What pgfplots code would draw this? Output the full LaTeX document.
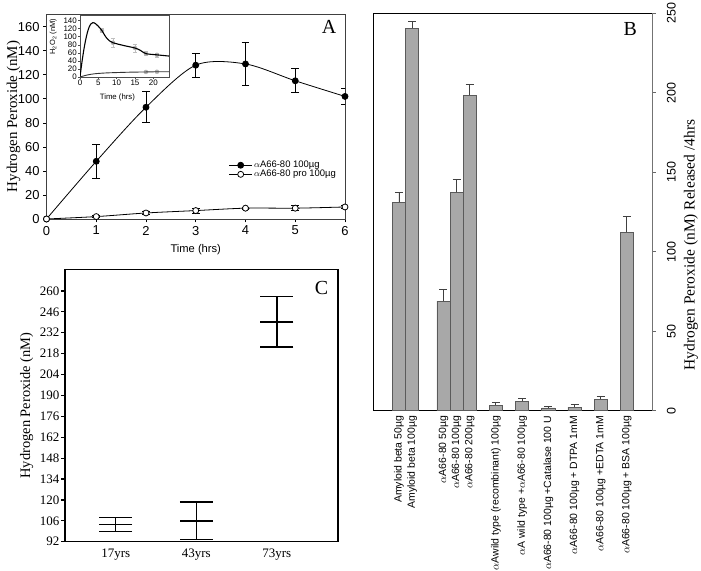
\documentclass[border=0pt]{standalone}
\usepackage{fontspec}
\setmainfont{Liberation Serif}
\setsansfont{Liberation Sans}
\usepackage{pgfplots}
\pgfplotsset{compat=1.18}
\newcommand\fs[1]{\fontsize{#1}{#1}\selectfont}
\definecolor{barfill}{HTML}{A8A8A8}
\definecolor{bardraw}{HTML}{5A5A5A}
\begin{document}
\begin{tikzpicture}[x=1bp,y=1bp]
\path[use as bounding box] (0,0) rectangle (701,571);

% ---------------- Panel A ----------------
\begin{axis}[
  at={(46.5bp,352bp)}, anchor=south west, scale only axis,
  width=298.5bp, height=205bp, clip mode=individual,
  xmin=0, xmax=6, ymin=0, ymax=170.6,
  xtick={0,1,...,6}, ytick={0,20,...,160},
  xtick pos=bottom, ytick pos=left, tick align=outside,
  major tick length=3.5bp,
  axis line style={black!75, line width=0.7bp},
  tick style={black, line width=0.7bp},
  /pgf/number format/assume math mode=true,
  ticklabel style={font=\sffamily\fs{13}},
  legend style={at={(axis description cs:0.6,0.30)}, anchor=north west,
    draw=none, fill=none, font=\sffamily\fs{9.5}, row sep=-2bp,
    nodes={inner sep=1.5bp}},
  legend cell align=left,
  legend image code/.code={\draw[mark repeat=2,mark phase=2] plot coordinates {(0bp,0bp) (11.5bp,0bp) (23bp,0bp)};},
]
\addplot[black, line width=0.8bp, smooth, mark=*, mark size=3bp,
  error bars/.cd, y dir=both, y explicit,
  error bar style={line width=0.8bp}, error mark options={rotate=90, mark size=3.8bp, line width=0.8bp}]
  table[y error=e] {
  x y e
  0 0 0
  1 48 14
  2 93 13
  3 128 10
  4 129 18
  5 115 10
  6 102 7
};
\addlegendentry{$\alpha$A66-80 100µg}
\addplot[black, line width=0.8bp, smooth, mark=*, mark size=3bp, mark options={fill=white},
  error bars/.cd, y dir=both, y explicit,
  error bar style={line width=0.8bp}, error mark options={rotate=90, mark size=3.8bp, line width=0.8bp}]
  table[y error=e] {
  x y e
  0 0 0
  1 2 1
  2 5 1
  3 7 2
  4 9 1
  5 9 2
  6 10 1
};
\addlegendentry{$\alpha$A66-80 pro 100µg}
\node[font=\fs{15}, rotate=90] at (axis description cs:-0.11,0.5) {Hydrogen Peroxide (nM)};
\node[font=\sffamily\fs{11.2}] at (axis description cs:0.5,-0.151) {Time (hrs)};
\node[font=\fs{20}] at (axis description cs:0.947,0.937) {A};
\end{axis}

% ---------------- Inset ----------------
\begin{axis}[
  at={(80bp,494bp)}, anchor=south west, scale only axis,
  width=89bp, height=62bp, clip mode=individual,
  xmin=0, xmax=24.3, ymin=0, ymax=154,
  xtick={0,5,...,20}, ytick={0,20,...,140},
  xtick pos=bottom, ytick pos=left, tick align=outside,
  major tick length=2bp,
  axis line style={black!70, line width=0.6bp},
  tick style={black!70, line width=0.5bp},
  /pgf/number format/assume math mode=true,
  ticklabel style={font=\sffamily\fs{8}, inner sep=1bp},
  axis background/.style={fill=white},
]
\addplot[only marks, mark=none, black!30,
  error bars/.cd, y dir=both, y explicit,
  error bar style={line width=0.5bp, black!25}, error mark options={rotate=90, mark size=2bp, line width=0.5bp, black!25}]
  table[y error=e] {
  x y e
  6 115 5
  9 85 10
  15 72 10
  18 58 5
  21 55 5
  18 12.5 1.5
  21 13 1.5
};
\addplot[black, line width=1.1bp, smooth] coordinates {
  (0,0) (0.5,35) (1,65) (1.5,90) (2,110) (2.5,124) (3,132) (3.5,135) (4,134) (5,126) (6,115) (7,100) (8,90) (9,85) (12,78) (15,72) (16.5,66) (18,58) (21,55) (24.3,52)
};
\addplot[black!80, line width=0.9bp, smooth] coordinates {
  (0,0) (2,5) (4,8) (7,10) (10,11) (14,12) (18,12.5) (21,13) (24.3,13)
};
\node[font=\sffamily\fs{7.5}, rotate=90] at (axis description cs:-0.30,0.65) {H\textsubscript{2}O\textsubscript{2} (nM)};
\node[font=\sffamily\fs{7.8}] at (axis description cs:0.42,-0.33) {Time (hrs)};
\end{axis}

% ---------------- Panel B ----------------
\begin{axis}[
  at={(373bp,160.3bp)}, anchor=south west, scale only axis,
  width=279.7bp, height=397.4bp, clip mode=individual,
  xmin=-1.98, xmax=19.37, ymin=0, ymax=250,
  ytick={0,50,...,250},
  xtick={0,1,3.4,4.4,5.4,7.4,9.4,11.4,13.4,15.4,17.4},
  xticklabels={
    {Amyloid beta 50µg},
    {Amyloid beta 100µg},
    {$\alpha$A66-80 50µg},
    {$\alpha$A66-80 100µg},
    {$\alpha$A66-80 200µg},
    {$\alpha$Awild type (recombinant) 100µg},
    {$\alpha$A wild type +$\alpha$A66-80 100µg},
    {$\alpha$A66-80 100µg +Catalase 100 U},
    {$\alpha$A66-80 100µg + DTPA 1mM},
    {$\alpha$A66-80 100µg +EDTA 1mM},
    {$\alpha$A66-80 100µg + BSA 100µg}},
  xticklabel style={rotate=90, anchor=east, font=\sffamily\fs{10.5}, inner sep=2bp},
  major x tick style={draw=none},
  ytick pos=right, yticklabel pos=right, tick align=outside,
  major tick length=3bp,
  axis line style={black, line width=0.8bp},
  tick style={black!60, line width=0.7bp},
  /pgf/number format/assume math mode=true,
  yticklabel style={font=\sffamily\fs{12.5}, rotate=90, anchor=north, inner sep=11bp},
]
\addplot[ybar, bar width=13.1bp, fill=barfill, draw=bardraw, line width=0.7bp,
  error bars/.cd, y dir=plus, y explicit,
  error bar style={line width=0.9bp, black!75}, error mark options={rotate=90, mark size=4bp, line width=0.9bp, black!75}]
  table[y error=e] {
  x y e
  0 131 6
  1 240.5 4.5
  3.4 69 7
  4.4 137.4 8
  5.4 198.3 7
  7.4 3.5 1.5
  9.4 5.8 2
  11.4 1.7 0.8
  13.4 2.2 1.6
  15.4 7.1 2
  17.4 112.4 10
};
\draw[black!55, line width=1bp] (rel axis cs:1,0) -- (rel axis cs:1,1);
\node[font=\fs{15.5}, rotate=90] at (axis description cs:1.137,0.417) {Hydrogen Peroxide (nM) Released /4hrs};
\node[font=\fs{20}] at (axis description cs:0.92,0.96) {B};
\end{axis}

% ---------------- Panel C ----------------
\begin{axis}[
  at={(65bp,29.3bp)}, anchor=south west, scale only axis,
  width=273bp, height=272.4bp, clip mode=individual,
  xmin=-0.63, xmax=2.76, ymin=92, ymax=274.5,
  ytick={92,106,...,260},
  xtick={0,1,2}, xticklabels={17yrs,43yrs,73yrs},
  major x tick style={draw=none},
  ytick pos=left, tick align=outside,
  major tick length=4bp,
  axis line style={black, line width=1.4bp},
  tick style={black, line width=1.2bp},
  /pgf/number format/assume math mode=true,
  ticklabel style={font=\fs{13}},
  yticklabel style={inner sep=1.5bp},
]
\addplot[only marks, black, mark=-, mark size=16.5bp, mark options={line width=1.8bp},
  error bars/.cd, y dir=both, y explicit,
  error bar style={line width=1.4bp}, error mark options={rotate=90, mark size=16.5bp, line width=1.2bp}]
  table[y error=e] {
  x y e
  0 103.5 4.8
  1 106.1 12.5
  2 239.3 16.9
};
\node[font=\fs{14.5}, rotate=90] at (axis description cs:-0.140,0.5) {Hydrogen Peroxide (nM)};
\node[font=\fs{20}] at (axis description cs:0.94,0.93) {C};
\end{axis}
\end{tikzpicture}
\end{document}
